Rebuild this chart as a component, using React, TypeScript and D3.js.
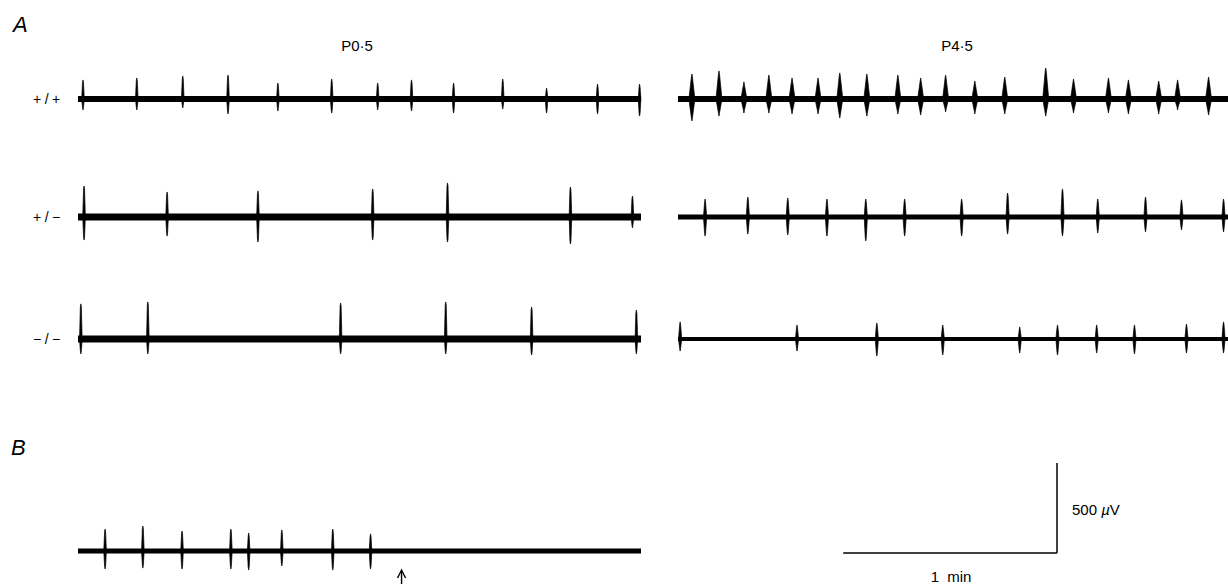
import React from "react";
import * as d3 from "d3";

// sweep length (s) shared by every trace
const SWEEP = 158;

const ages = ["P0·5", "P4·5"];
const genotypes = ["+/+", "+/−", "−/−"];

// spikes: [time (s), peak up (µV), peak down (µV)]
const p05WT = [
  [1.4, 106, 61], [16.5, 117, 61], [29.4, 128, 50], [42.1, 133, 83],
  [56.1, 89, 67], [71.2, 111, 78], [84.1, 89, 61], [93.6, 106, 67],
  [105.4, 89, 78], [119.2, 111, 56], [131.5, 61, 78], [145.8, 83, 83],
  [157.6, 83, 95],
];
const p05Het = [
  [1.7, 172, 128], [25.0, 139, 106], [50.5, 145, 139], [82.7, 156, 128],
  [103.7, 189, 139], [138.2, 167, 150], [155.6, 117, 61],
];
const p05KO = [
  [0.8, 195, 83], [19.6, 206, 83], [73.7, 200, 83], [103.2, 206, 83],
  [127.3, 178, 89], [156.7, 161, 83],
];
const p45WT = [
  [3.9, 139, 122], [11.5, 156, 95], [18.5, 95, 78], [25.5, 133, 78],
  [32.0, 117, 83], [39.3, 117, 83], [45.4, 145, 106], [53.0, 139, 95],
  [61.7, 133, 83], [68.1, 117, 89], [75.1, 133, 72], [83.3, 100, 83],
  [91.7, 122, 83], [103.2, 172, 95], [111.0, 111, 78], [120.8, 117, 78],
  [126.4, 106, 83], [134.9, 100, 83], [140.2, 106, 61], [148.9, 122, 89],
];
const p45Het = [
  [7.6, 100, 106], [19.6, 111, 95], [30.8, 106, 100], [41.8, 100, 106],
  [52.7, 100, 133], [63.6, 100, 106], [79.6, 100, 106], [92.5, 133, 95],
  [107.9, 156, 106], [117.8, 100, 89], [131.2, 111, 83], [141.3, 95, 72],
  [153.1, 100, 83],
];
const p45KO = [
  [0.6, 95, 67], [33.4, 78, 67], [55.8, 89, 95], [74.3, 78, 89],
  [95.9, 67, 78], [106.5, 78, 89], [117.5, 78, 78], [128.1, 78, 83],
  [142.7, 83, 78], [153.1, 95, 78],
];
// panel B: bursts stop after the drug, arrow marks the time of application
const panelB = [
  [7.6, 122, 100], [18.2, 139, 95], [29.2, 111, 100], [42.9, 122, 100],
  [47.9, 100, 106], [57.2, 117, 83], [71.5, 122, 106], [82.1, 95, 100],
];
const arrowTime = 90.8;

// scale bar
const barTime = 60; // s
const barVolt = 500; // µV

const W = 1228;
const H = 584;
const FONT = "'Liberation Sans', Arial, Helvetica, sans-serif";

const sweepPx = 563;
const leftX = 78;
const rightX = 678;
const rowY = [99, 217, 339];
const bY = 551;

const amp = d3.scaleLinear().domain([0, barVolt]).range([0, 90]);

function Trace({ x0, y, spikes, thick, halfW }) {
  const x = d3.scaleLinear().domain([0, SWEEP]).range([x0, x0 + sweepPx]);
  const line = d3.line();
  return (
    <g>
      <line x1={x(0)} x2={x(SWEEP)} y1={y} y2={y} stroke="#000" strokeWidth={thick} />
      {spikes.map((s, i) => {
        const cx = x(s[0]);
        const top = y - amp(s[1]);
        const bot = y + amp(s[2]);
        const d = line([
          [cx - halfW, y],
          [cx - 0.5, top + 3],
          [cx, top],
          [cx + 0.5, top + 3],
          [cx + halfW, y],
          [cx + 0.5, bot - 3],
          [cx, bot],
          [cx - 0.5, bot - 3],
        ]) + "Z";
        return <path key={i} d={d} fill="#000" stroke="#000" strokeWidth={0.7} />;
      })}
    </g>
  );
}

export default function App() {
  const tx = d3.scaleLinear().domain([0, SWEEP]).range([0, sweepPx]);
  const xB = d3.scaleLinear().domain([0, SWEEP]).range([leftX, leftX + sweepPx]);
  const barX1 = 1057;
  const barX0 = barX1 - tx(barTime);
  const barY = 553;
  const ax = xB(arrowTime);

  const rowsL = [p05WT, p05Het, p05KO];
  const rowsR = [p45WT, p45Het, p45KO];
  const thickL = [6, 7, 7];
  const thickR = [6, 5, 4];

  return (
    <svg
      width={W}
      height={H}
      style={{ position: "absolute", left: 0, top: 0, background: "#fff" }}
      fontFamily={FONT}
    >
      <rect width={W} height={H} fill="#fff" />
      <text x={13} y={32} fontSize={22} fontStyle="italic">A</text>
      <text x={11} y={455} fontSize={22} fontStyle="italic">B</text>

      <text x={357} y={51} fontSize={15} textAnchor="middle">{ages[0]}</text>
      <text x={957} y={51} fontSize={15} textAnchor="middle">{ages[1]}</text>

      {genotypes.map((g, i) => (
        <text key={g} x={33} y={rowY[i] + 5} fontSize={14} letterSpacing={3.5}>{g}</text>
      ))}

      {rowsL.map((s, i) => (
        <Trace key={"l" + i} x0={leftX} y={rowY[i]} spikes={s} thick={thickL[i]} halfW={1.3} />
      ))}
      {rowsR.map((s, i) => (
        <Trace key={"r" + i} x0={rightX} y={rowY[i]} spikes={s} thick={thickR[i]} halfW={i === 0 ? 3 : 1.6} />
      ))}
      <Trace x0={leftX} y={bY} spikes={panelB} thick={5} halfW={1.3} />

      {/* arrow */}
      <g stroke="#000" strokeWidth={1.4} fill="none">
        <line x1={ax} x2={ax} y1={571} y2={586} />
        <path d={`M${ax - 4},${578} L${ax},${570} L${ax + 4},${578}`} />
      </g>

      {/* scale bar */}
      <g stroke="#000" strokeWidth={1.5} fill="none">
        <line x1={barX0} x2={barX1} y1={barY} y2={barY} />
        <line x1={barX1} x2={barX1} y1={barY} y2={barY - amp(barVolt)} />
      </g>
      <text x={1072} y={515} fontSize={15}>
        500 <tspan fontStyle="italic">µ</tspan>V
      </text>
      <text x={951} y={582} fontSize={15} textAnchor="middle" wordSpacing={4}>1 min</text>
    </svg>
  );
}
